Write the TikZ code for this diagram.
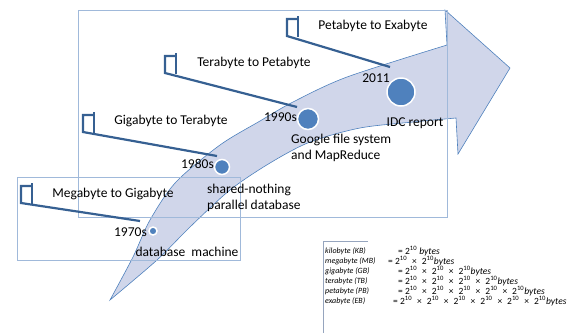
\documentclass[tikz,border=0pt]{standalone}
\usepackage{fontspec}
\setmainfont{Carlito}
\usetikzlibrary{positioning}

\definecolor{boxblue}{RGB}{160,185,218}
\definecolor{arrowfill}{RGB}{208,214,234}
\definecolor{arrowline}{RGB}{79,129,189}
\definecolor{flagblue}{RGB}{54,96,146}
\definecolor{legendline}{RGB}{150,165,190}
\newcommand{\twoten}{2\textsuperscript{10}}
\newcommand{\tms}{\hspace{5pt}×\hspace{5pt}}

\begin{document}
\begin{tikzpicture}[x=1pt,y=-1pt,
	frame/.style={draw=boxblue,line width=0.7pt},
	flagline/.style={draw=flagblue,line width=2.2pt,line join=miter},
	dot/.style={circle,fill=arrowline,draw=white,line width=1.5pt,inner sep=0pt,minimum size=#1},
	lbl/.style={font=\fontsize{13.5}{16.5}\selectfont,inner sep=0pt},
	legend/.style={font=\fontsize{9.5}{10}\selectfont,inner sep=0pt,anchor=west}]
	\useasboundingbox (0,0) rectangle (586,333);
	
	% the big arrow
	\draw[fill=arrowfill,draw=arrowline,line width=0.6pt]
	plot[smooth] coordinates {(110,300) (133,257) (150,220) (176,182) (220,145) (260,121) (293,102) (347,77) (447,45)}
	-- (445,10) -- (510,68) -- (458,154) -- (456,118)
	-- plot[smooth] coordinates {(456,118) (413,122) (360,128) (310,142) (270,163) (230,190) (190,227) (157,260) (110,300)} -- cycle;
	
	% frames
	\draw[frame] (78,10) rectangle (447,217);
	\draw[frame] (17,177) rectangle (240,260);
	\draw[draw=legendline,line width=0.6pt] (368,241) -- (323,241) -- (323,333);
	
	% milestones
	\node[dot=8pt] (d70) at (153,231) {};
	\node[dot=15pt] (d80) at (222,167) {};
	\node[dot=21pt] (d90) at (308,119) {};
	\node[dot=28pt] (d11) at (401,92) {};
	
	\node[lbl,anchor=east] (y70) at (147,232) {1970s};
	\node[lbl,anchor=east] (y80) at (214,164) {1980s};
	\node[lbl,anchor=east] (y90) at (297,117) {1990s};
	\node[lbl] (y11) at (376,78) {2011};
	
	\node[lbl] (t70) at (187,252) {database\ \ machine};
	\node[lbl,anchor=west,align=left] (t80) at (207,198) {shared-nothing\\parallel database};
	\node[lbl,anchor=west,align=left] (t90) at (291,148) {Google file system\\and MapReduce};
	\node[lbl] (t11) at (415,123) {IDC report};
	
	% flags
	\foreach \x/\y/\ex/\ey/\n in {21/203/140/221/1, 83/132/217/156/2, 165/73/297/107/3, 287/36/390/67/4} {
		\coordinate (f\n) at (\x,\y);
		\coordinate (e\n) at (\ex,\ey);
		\draw[flagline] (e\n) -- (f\n) -- ++(0,-17) -- ++(11,0);
		\draw[flagline] ([shift={(11,1)}]f\n) -- ++(0,-21);
	}
	\node[lbl] (g1) at (113,194) {Megabyte to Gigabyte};
	\node[lbl] (g2) at (171,121) {Gigabyte to Terabyte};
	\node[lbl] (g3) at (254,63) {Terabyte to Petabyte};
	\node[lbl] (g4) at (373,26) {Petabyte to Exabyte};
	
	% legend
	\foreach \y/\nm/\ex/\eq [count=\i] in {
		251/kilobyte (KB)/398/{= \twoten\ \textit{bytes}},
		261/megabyte (MB)/388/{= \twoten\tms\twoten\textit{bytes}},
		271/gigabyte (GB)/398/{= \twoten\tms\twoten\tms\twoten\textit{bytes}},
		281/terabyte (TB)/398/{= \twoten\tms\twoten\tms\twoten\tms\twoten\textit{bytes}},
		291/petabyte (PB)/398/{= \twoten\tms\twoten\tms\twoten\tms\twoten\tms\twoten\textit{bytes}},
		301/exabyte (EB)/393/{= \twoten\tms\twoten\tms\twoten\tms\twoten\tms\twoten\tms\twoten\textit{bytes}}} {
		\node[legend,font=\fontsize{8}{9}\selectfont\itshape] (n\i) at (325,\y) {\nm};
		\node[legend] (q\i) at (\ex,\y) {\eq};
	}
\end{tikzpicture}
\end{document}
